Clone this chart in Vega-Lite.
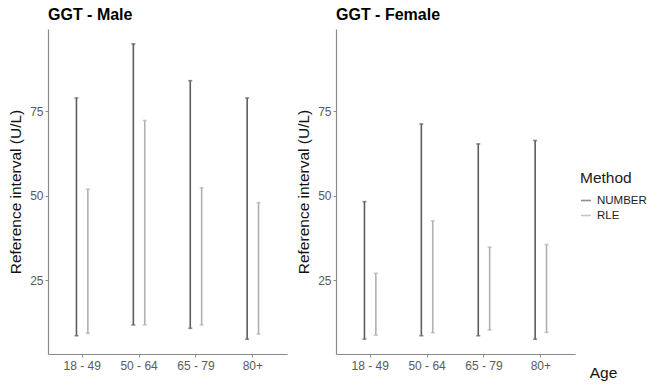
{
  "$schema": "https://vega.github.io/schema/vega-lite/v6.json",
  "background": "white",
  "padding": {"left": 8, "top": 7, "right": 2, "bottom": 5},
  "spacing": 9,
  "config": {
    "font": "Liberation Sans",
    "view": {"stroke": null},
    "axis": {"grid": false, "domainColor": "#8a8a8a", "domainWidth": 1.2, "tickColor": "#8a8a8a", "tickSize": 3, "labelColor": "#5a5a5a", "labelFontSize": 12, "titleColor": "#111111", "titleFontSize": 15.5, "titleFontWeight": "normal"}
  },
  "datasets": {
    "ri": [
      {"Sex": "Male", "Age": "18 - 49", "Method": "NUMBER", "lo": 8.6, "hi": 79},
      {"Sex": "Male", "Age": "18 - 49", "Method": "RLE", "lo": 9.3, "hi": 52},
      {"Sex": "Male", "Age": "50 - 64", "Method": "NUMBER", "lo": 11.8, "hi": 95},
      {"Sex": "Male", "Age": "50 - 64", "Method": "RLE", "lo": 11.8, "hi": 72.3},
      {"Sex": "Male", "Age": "65 - 79", "Method": "NUMBER", "lo": 10.8, "hi": 84.1},
      {"Sex": "Male", "Age": "65 - 79", "Method": "RLE", "lo": 11.8, "hi": 52.4},
      {"Sex": "Male", "Age": "80+", "Method": "NUMBER", "lo": 7.6, "hi": 79},
      {"Sex": "Male", "Age": "80+", "Method": "RLE", "lo": 9.1, "hi": 48},
      {"Sex": "Female", "Age": "18 - 49", "Method": "NUMBER", "lo": 7.6, "hi": 48.3},
      {"Sex": "Female", "Age": "18 - 49", "Method": "RLE", "lo": 8.8, "hi": 27.1},
      {"Sex": "Female", "Age": "50 - 64", "Method": "NUMBER", "lo": 8.6, "hi": 71.3},
      {"Sex": "Female", "Age": "50 - 64", "Method": "RLE", "lo": 9.5, "hi": 42.6},
      {"Sex": "Female", "Age": "65 - 79", "Method": "NUMBER", "lo": 8.6, "hi": 65.4},
      {"Sex": "Female", "Age": "65 - 79", "Method": "RLE", "lo": 10.3, "hi": 34.8},
      {"Sex": "Female", "Age": "80+", "Method": "NUMBER", "lo": 7.6, "hi": 66.4},
      {"Sex": "Female", "Age": "80+", "Method": "RLE", "lo": 9.6, "hi": 35.6}
    ]
  },
  "resolve": {"legend": {"color": "independent"}},
  "hconcat": [
    {
      "width": 239,
      "height": 325,
      "title": {"text": "GGT - Male", "anchor": "start", "frame": "group", "fontSize": 16, "fontWeight": "bold", "color": "#000000", "offset": 6},
      "data": {"name": "ri"},
      "transform": [{"filter": "datum.Sex === 'Male'"}],
      "encoding": {
        "x": {"field": "Age", "type": "nominal", "scale": {"paddingInner": 0.6, "paddingOuter": 0.4}, "axis": {"title": null, "labelAngle": 0, "labelPadding": 3}},
        "xOffset": {"field": "Method", "type": "nominal", "scale": {"paddingInner": 0, "paddingOuter": 0}},
        "color": {"field": "Method", "type": "nominal", "scale": {"domain": ["NUMBER", "RLE"], "range": ["#5e5e5e", "#b0b0b0"]}, "legend": null}
      },
      "layer": [
        {
          "mark": {"type": "rule", "strokeWidth": 1.6},
          "encoding": {
            "y": {"field": "lo", "type": "quantitative", "scale": {"domain": [3.2, 99.4], "nice": false, "zero": false}, "axis": {"title": "Reference interval (U/L)", "values": [25, 50, 75], "titlePadding": 6}},
            "y2": {"field": "hi"}
          }
        },
        {"mark": {"type": "tick", "thickness": 1.6, "size": 4}, "encoding": {"y": {"field": "lo", "type": "quantitative"}}},
        {"mark": {"type": "tick", "thickness": 1.6, "size": 4}, "encoding": {"y": {"field": "hi", "type": "quantitative"}}}
      ]
    },
    {
      "width": 239,
      "height": 325,
      "title": {"text": "GGT - Female", "anchor": "start", "frame": "group", "fontSize": 16, "fontWeight": "bold", "color": "#000000", "offset": 6},
      "data": {"name": "ri"},
      "transform": [{"filter": "datum.Sex === 'Female'"}],
      "encoding": {
        "x": {"field": "Age", "type": "nominal", "scale": {"paddingInner": 0.6, "paddingOuter": 0.4}, "axis": {"title": "Age", "labelAngle": 0, "labelPadding": 3, "titleX": 267, "titleY": 18, "titleBaseline": "middle", "titleAlign": "center"}},
        "xOffset": {"field": "Method", "type": "nominal", "scale": {"paddingInner": 0, "paddingOuter": 0}},
        "color": {"field": "Method", "type": "nominal", "scale": {"domain": ["NUMBER", "RLE"], "range": ["#5e5e5e", "#b0b0b0"]}, "legend": {"orient": "none", "legendX": 244, "legendY": 142, "title": "Method", "titleFontSize": 15.5, "titleFontWeight": "normal", "titleColor": "#222222", "titlePadding": 8, "labelFontSize": 11.5, "labelColor": "#222222", "labelOffset": 5, "symbolType": "stroke", "symbolStrokeWidth": 1.6, "symbolSize": 100, "rowPadding": 3}}
      },
      "layer": [
        {
          "mark": {"type": "rule", "strokeWidth": 1.6},
          "encoding": {
            "y": {"field": "lo", "type": "quantitative", "scale": {"domain": [3.2, 99.4], "nice": false, "zero": false}, "axis": {"title": "Reference interval (U/L)", "values": [25, 50, 75], "titlePadding": 6}},
            "y2": {"field": "hi"}
          }
        },
        {"mark": {"type": "tick", "thickness": 1.6, "size": 4}, "encoding": {"y": {"field": "lo", "type": "quantitative"}}},
        {"mark": {"type": "tick", "thickness": 1.6, "size": 4}, "encoding": {"y": {"field": "hi", "type": "quantitative"}}}
      ]
    }
  ]
}
